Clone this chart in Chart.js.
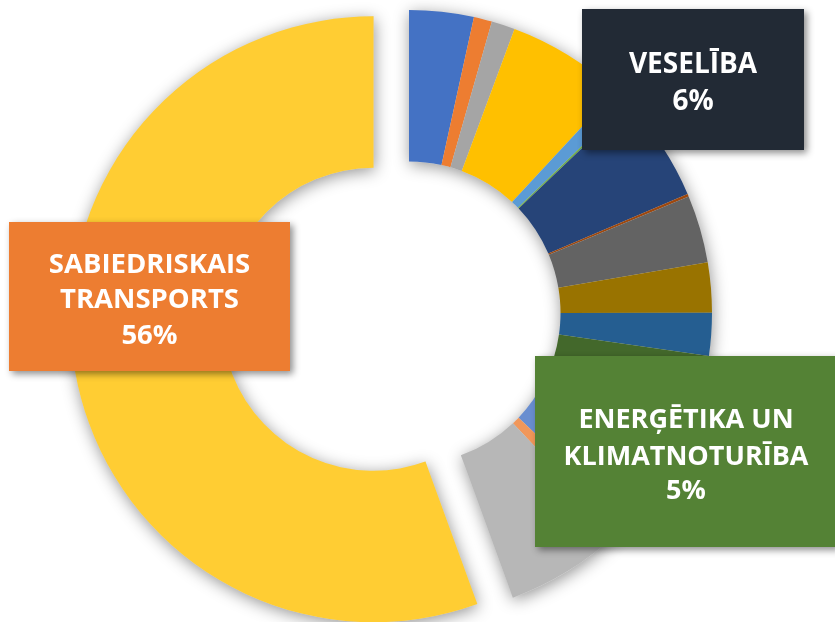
<!DOCTYPE html>
<html><head><meta charset="utf-8">
<script src="https://cdn.jsdelivr.net/npm/chart.js@4.4.0/dist/chart.umd.min.js"></script>
<style>
html,body{margin:0;padding:0;background:#fff;}
#wrap{position:relative;width:835px;height:622px;overflow:hidden;background:#fff;}
canvas{position:absolute;left:0;top:0;}
</style></head><body>
<div id="wrap"><canvas id="cA" width="835" height="622"></canvas><canvas id="cB" width="835" height="622"></canvas></div>
<script>
// ---- data ----
const categories = [
  'Kategorija 1','Kategorija 2','Kategorija 3','Kategorija 4','Kategorija 5','Kategorija 6',
  'VESELĪBA','Kategorija 8','Kategorija 9','Kategorija 10','Kategorija 11',
  'ENERĢĒTIKA UN KLIMATNOTURĪBA','Kategorija 13','Kategorija 14','Kategorija 15',
  'SABIEDRISKAIS TRANSPORTS'
];
const shares = [3.44, 0.97, 1.25, 6.25, 0.86, 0.11, 5.69, 0.14, 3.61, 2.67, 2.28, 5.00, 4.86, 0.83, 6.47, 55.56];
const sliceColors = ['#4472C4','#ED7D31','#A5A5A5','#FFC000','#5B9BD5','#70AD47','#264478','#9E480E',
  '#636363','#997300','#255E91','#43682B','#698ED0','#F1975A','#B7B7B7','#FFCD33'];
const explodedCategory = 'SABIEDRISKAIS TRANSPORTS';
const labelledCategories = ['VESELĪBA','ENERĢĒTIKA UN KLIMATNOTURĪBA','SABIEDRISKAIS TRANSPORTS'];
const labelLines = [['VESELĪBA'], ['ENERĢĒTIKA UN','KLIMATNOTURĪBA'], ['SABIEDRISKAIS','TRANSPORTS']];

// ---- layout / style ----
const W = 835, H = 622;
const ring = {cx: 409, cy: 313, radius: 303, cutout: '50%', explode: 36};
const labelBoxes = [
  {x: 582, y: 9,   w: 222, h: 141, fill: '#222A35', size: 28,   base: [72.5, 110]},
  {x: 535, y: 356, w: 302, h: 191, fill: '#548235', size: 27,   base: [428, 464.5, 498.8]},
  {x: 9,   y: 222, w: 281, h: 149, fill: '#ED7D31', size: 27.5, base: [272.6, 308.4, 344.2]}
];

const total = shares.reduce((a, b) => a + b, 0);
const exIdx = categories.indexOf(explodedCategory);
const before = shares.slice(0, exIdx).reduce((a, b) => a + b, 0);
const midAngle = (before + shares[exIdx] / 2) / total * 2 * Math.PI;
const exCx = ring.cx + ring.explode * Math.sin(midAngle);
const exCy = ring.cy - ring.explode * Math.cos(midAngle);

function padFor(cx, cy) {
  const dx = 2 * cx - W, dy = 2 * cy - H;
  return {left: Math.max(dx, 0), right: Math.max(-dx, 0), top: Math.max(dy, 0), bottom: Math.max(-dy, 0)};
}

const T = 'rgba(0,0,0,0)';
const colorsA = sliceColors.map((c, i) => i === exIdx ? c : T);
const colorsB = sliceColors.map((c, i) => i === exIdx ? T : c);

const ringShadow = {
  id: 'ringShadow',
  beforeDatasetsDraw(chart) {
    const ctx = chart.ctx;
    const meta = chart.getDatasetMeta(0);
    ctx.save();
    ctx.shadowColor = 'rgba(0,0,0,0.42)';
    ctx.shadowBlur = 16;
    ctx.shadowOffsetX = 1;
    ctx.shadowOffsetY = 3;
    ctx.fillStyle = '#dddddd';
    ctx.beginPath();
    meta.data.forEach((arc) => {
      if (arc.options.backgroundColor === T) return;
      const p = arc.getProps(['x','y','startAngle','endAngle','innerRadius','outerRadius']);
      ctx.moveTo(p.x + p.outerRadius * Math.cos(p.startAngle), p.y + p.outerRadius * Math.sin(p.startAngle));
      ctx.arc(p.x, p.y, p.outerRadius, p.startAngle, p.endAngle);
      ctx.arc(p.x, p.y, p.innerRadius, p.endAngle, p.startAngle, true);
      ctx.closePath();
    });
    ctx.fill();
    ctx.restore();
  }
};

const labelPlugin = {
  id: 'boxLabels',
  afterDraw(chart) {
    const ctx = chart.ctx;
    labelledCategories.forEach((cat, k) => {
      const i = categories.indexOf(cat);
      const b = labelBoxes[k];
      const pct = Math.round(shares[i] / total * 100) + '%';
      const lines = labelLines[k].concat([pct]);
      ctx.save();
      ctx.shadowColor = 'rgba(0,0,0,0.45)';
      ctx.shadowBlur = 7;
      ctx.shadowOffsetX = 3;
      ctx.shadowOffsetY = 3;
      ctx.fillStyle = b.fill;
      ctx.fillRect(b.x, b.y, b.w, b.h);
      ctx.restore();
      ctx.save();
      ctx.fillStyle = '#ffffff';
      ctx.font = 'bold ' + b.size + 'px "Open Sans", sans-serif';
      ctx.textAlign = 'center';
      ctx.textBaseline = 'alphabetic';
      lines.forEach((ln, j) => ctx.fillText(ln, b.x + b.w / 2, b.base[j]));
      ctx.restore();
    });
  }
};

function makeChart(id, colors, cx, cy, plugins) {
  return new Chart(document.getElementById(id), {
    type: 'doughnut',
    data: {labels: categories, datasets: [{data: shares, backgroundColor: colors, borderWidth: 0, clip: false}]},
    options: {
      responsive: false, maintainAspectRatio: false, animation: false,
      radius: ring.radius, cutout: ring.cutout,
      layout: {padding: padFor(cx, cy)},
      plugins: {legend: {display: false}, tooltip: {enabled: false}}
    },
    plugins: plugins
  });
}

makeChart('cA', colorsA, exCx, exCy, [ringShadow]);
makeChart('cB', colorsB, ring.cx, ring.cy, [ringShadow, labelPlugin]);
</script>
</body></html>
